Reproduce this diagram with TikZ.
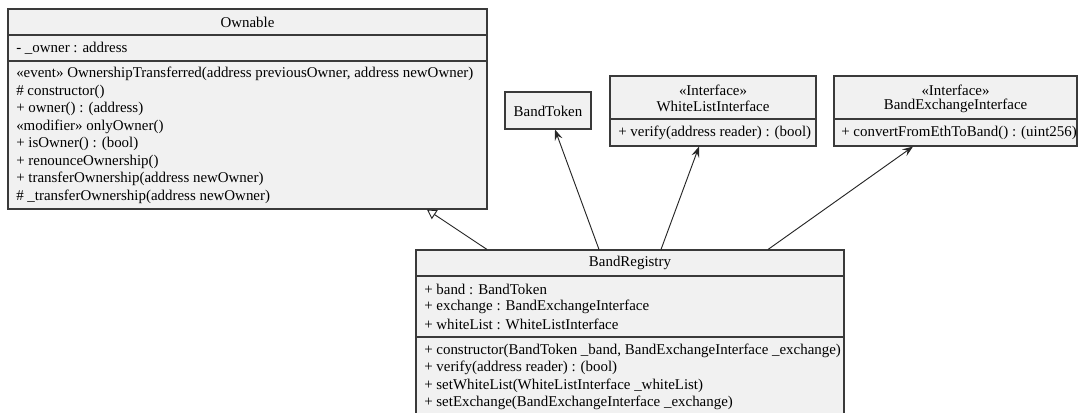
\documentclass[tikz,border=0pt]{standalone}
\usepackage{fontspec}
\setmainfont{Liberation Serif}
\usetikzlibrary{arrows.meta, fit}

\definecolor{boxfill}{HTML}{F1F1F1}
\definecolor{boxline}{HTML}{3A3A3A}

\begin{document}
\begin{tikzpicture}[x=0.75pt, y=-0.75pt,
    umlbox/.style={draw=boxline, fill=boxfill, line width=0.8pt, inner sep=0pt},
    member/.style={anchor=west, inner sep=0pt, font=\fontsize{11.2}{13}\selectfont},
    title/.style={inner sep=0pt, font=\fontsize{11.2}{13}\selectfont},
    assoc/.style={draw=black!85, line width=0.7pt, -{Stealth[length=8pt, width=6pt, inset=3pt]}},
    inherit/.style={draw=black!85, line width=0.7pt, -{Triangle[open, length=7pt, width=8pt, fill=white]}}]
    \useasboundingbox (0,0) rectangle (1080,412);
    \clip (0,0) rectangle (1080,412);

    % Ownable
    \node[umlbox, fit={(8,9) (487,209)}] (ownable) {};
    \draw[boxline, line width=0.8pt] (ownable.west |- 0,35) -- (ownable.east |- 0,35);
    \draw[boxline, line width=0.8pt] (ownable.west |- 0,61) -- (ownable.east |- 0,61);
    \node[title] (ownT) at (247.5,22) {Ownable};
    \node[member] (ownA1) at (16,48) {- \_owner : address};
    \node[member] (ownM1) at (16,74) {«event» OwnershipTransferred(address previousOwner, address newOwner)};
    \node[member] (ownM2) at (16,91.5) {\# constructor()};
    \node[member] (ownM3) at (16,109) {+ owner() : (address)};
    \node[member] (ownM4) at (16,126.5) {«modifier» onlyOwner()};
    \node[member] (ownM5) at (16,144) {+ isOwner() : (bool)};
    \node[member] (ownM6) at (16,161.5) {+ renounceOwnership()};
    \node[member] (ownM7) at (16,179) {+ transferOwnership(address newOwner)};
    \node[member] (ownM8) at (16,196.5) {\# \_transferOwnership(address newOwner)};

    % BandToken
    \node[umlbox, fit={(505,92) (591,129)}] (token) {};
    \node[title] (tokT) at (548,111) {BandToken};

    % WhiteListInterface
    \node[umlbox, fit={(610,76) (816,146)}] (white) {};
    \draw[boxline, line width=0.8pt] (white.west |- 0,119) -- (white.east |- 0,119);
    \node[title] (whiS) at (713,90) {«Interface»};
    \node[title] (whiT) at (713,106) {WhiteListInterface};
    \node[member] (whiM1) at (618,132.5) {+ verify(address reader) : (bool)};

    % BandExchangeInterface
    \node[umlbox, fit={(834,76) (1077,146)}] (exch) {};
    \draw[boxline, line width=0.8pt] (exch.west |- 0,119) -- (exch.east |- 0,119);
    \node[title] (excS) at (955.5,90) {«Interface»};
    \node[title] (excT) at (955.5,106) {BandExchangeInterface};
    \node[member] (excM1) at (841,132.5) {+ convertFromEthToBand() : (uint256)};

    % BandRegistry
    \node[umlbox, fit={(416,250) (844,430)}] (registry) {};
    \draw[boxline, line width=0.8pt] (registry.west |- 0,276) -- (registry.east |- 0,276);
    \draw[boxline, line width=0.8pt] (registry.west |- 0,337) -- (registry.east |- 0,337);
    \node[title] (regT) at (630,263) {BandRegistry};
    \node[member] (regA1) at (424,289) {+ band : BandToken};
    \node[member] (regA2) at (424,306.5) {+ exchange : BandExchangeInterface};
    \node[member] (regA3) at (424,324) {+ whiteList : WhiteListInterface};
    \node[member] (regM1) at (424,350.5) {+ constructor(BandToken \_band, BandExchangeInterface \_exchange)};
    \node[member] (regM2) at (424,368) {+ verify(address reader) : (bool)};
    \node[member] (regM3) at (424,385.5) {+ setWhiteList(WhiteListInterface \_whiteList)};
    \node[member] (regM4) at (424,403) {+ setExchange(BandExchangeInterface \_exchange)};

    % Relations
    \draw[inherit] (registry.north -| 487,0) -- (ownable.south -| 427,0);
    \draw[assoc] (registry.north -| 599,0) -- (token.south -| 555,0);
    \draw[assoc] (registry.north -| 661,0) -- (white.south -| 699,0);
    \draw[assoc] (registry.north -| 768,0) -- (exch.south -| 913,0);
\end{tikzpicture}
\end{document}
